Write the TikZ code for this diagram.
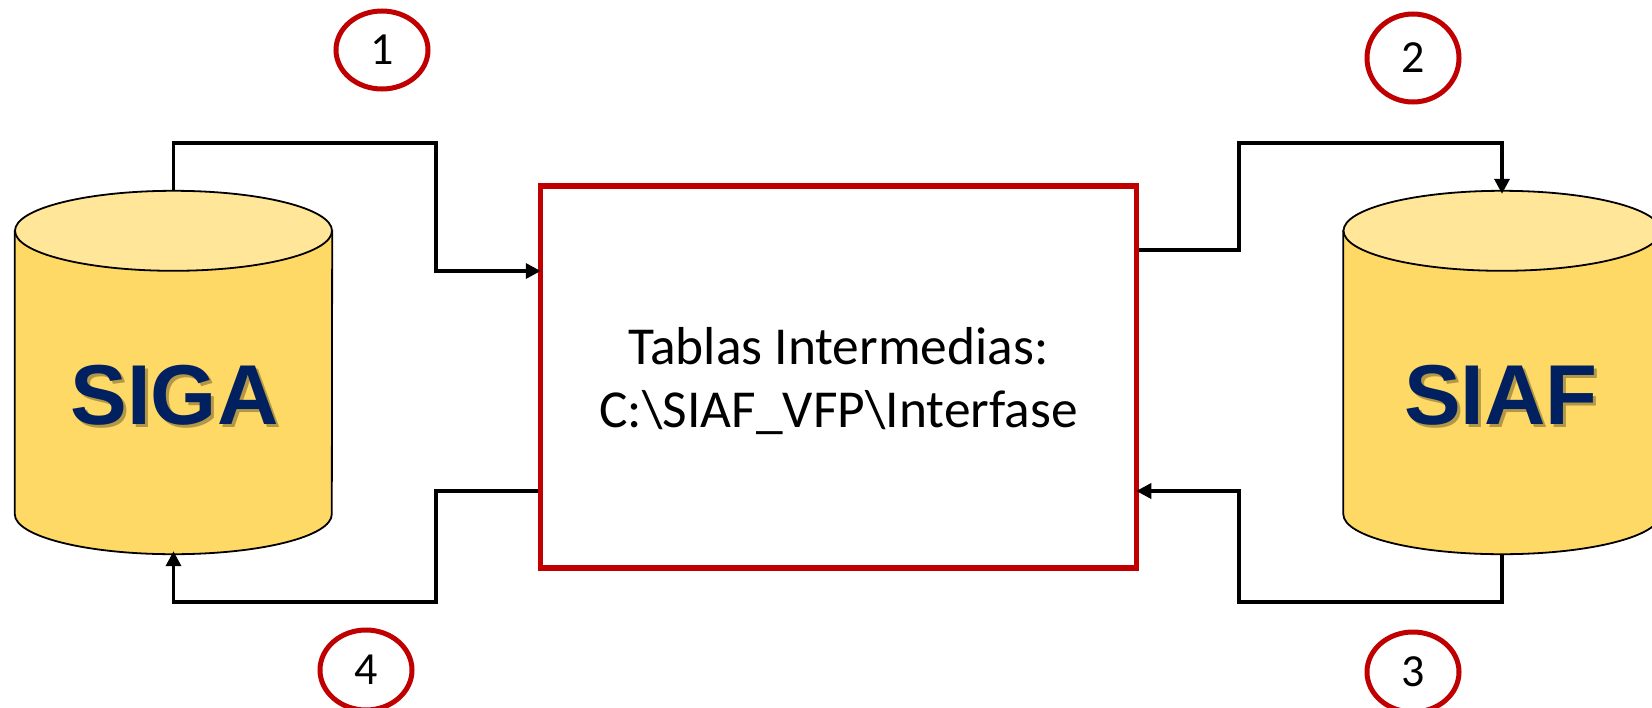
\documentclass[tikz,border=0pt]{standalone}
\usepackage{fontspec}
\setmainfont{Carlito}
\newfontfamily\dbfont{Liberation Sans}
\usetikzlibrary{positioning,arrows.meta,shapes.geometric}
\definecolor{dbbody}{HTML}{FFD966}
\definecolor{dbtop}{HTML}{FFE699}
\definecolor{dbtext}{HTML}{002060}
\definecolor{stepred}{HTML}{C00000}

\begin{document}
\begin{tikzpicture}[x=1pt,y=1pt,>={Triangle[length=15pt,width=15pt]}]
  \useasboundingbox (0,-707) rectangle (1652,0);
  \tikzset{
    database/.style={rectangle,minimum width=317pt,minimum height=363pt,inner sep=0pt},
    dbline/.style={draw=black,line width=1.8pt},
    dbname/.style={font=\dbfont\bfseries\fontsize{85}{85}\selectfont,text=dbtext},
    dbshadow/.style={dbname,text=black,opacity=.3},
    interface/.style={rectangle,draw=stepred,line width=5.5pt,fill=white,
      minimum width=596pt,minimum height=382pt},
    boxtext/.style={align=center,font=\fontsize{53.4}{63}\selectfont},
    stepmark/.style={ellipse,draw=stepred,line width=5pt,fill=white,
      minimum width=92pt,minimum height=80pt,inner sep=0pt,font=\fontsize{46}{46}\selectfont},
    link/.style={draw=black,line width=3.5pt,line join=miter,shorten >=-3pt}
  }

  %%% Middle box
  \node[interface] (box) at (838.5,-377) {};
  \node[boxtext] (boxlabel) [below of=box, node distance=4pt] {Tablas Intermedias:\\C:\textbackslash SIAF\_VFP\textbackslash Interfase};

  %%% Databases
  \node[database] (siga) at (173.5,-372.5) {};
  \node[database] (siaf) [right of=siga, node distance=1328.5pt] {};
  \foreach \db in {siga,siaf} {
    \draw[dbline,fill=dbbody] ([yshift=-40pt]\db.north west) -- ([yshift=40pt]\db.south west)
      arc[start angle=180,end angle=360,x radius=158.5pt,y radius=40pt]
      -- ([yshift=-40pt]\db.north east) -- cycle;
    \draw[dbline,fill=dbtop] ([yshift=-40pt]\db.north) ellipse[x radius=158.5pt,y radius=40pt];
  }
  \node[dbshadow] (sigashadow) at (177.5,-398) {SIGA};
  \node[dbname] (siganame) at (174.5,-395) {SIGA};
  \node[dbshadow] (siafshadow) at (1504,-398) {SIAF};
  \node[dbname] (siafname) at (1501,-395) {SIAF};

  %%% Step numbers
  \node[stepmark, minimum height=78pt] (one) at (382,-50) {1};
  \node[stepmark, minimum height=88pt] (two) at (1413,-58) {2};
  \node[stepmark] (three) at (1413,-672) {3};
  \node[stepmark] (four) at (366,-670) {4};

  % bends
  \coordinate (b1) at (436,-143);
  \coordinate (b2) at (1239,-143);
  \coordinate (b3) at (1239,-602);
  \coordinate (b4) at (436,-602);

  %%% Connectors
  \draw[link,->] (siga.north) |- (b1) |- ([yshift=106pt]box.west);
  \draw[link,->] ([yshift=127pt]box.east) -| (b2) -| (siaf.north);
  \draw[link,->] (siaf.south) |- (b3) |- ([yshift=-114pt]box.east);
  \draw[link,->] ([yshift=-114pt]box.west) -| (b4) -| (siga.south);
\end{tikzpicture}
\end{document}
